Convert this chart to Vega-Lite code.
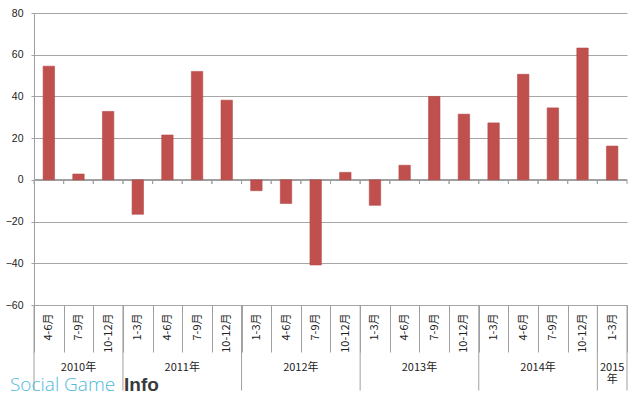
{
  "$schema": "https://vega.github.io/schema/vega-lite/v6.json",
  "width": 593,
  "height": 292,
  "autosize": {"type": "none"},
  "padding": {"left": 34, "top": 13, "right": 13, "bottom": 92},
  "background": "white",
  "config": {
    "view": {"stroke": null},
    "font": "Liberation Sans",
    "axis": {"labelColor": "#222", "labelFont": "Liberation Sans"}
  },
  "datasets": {
    "bars": [
      {"q": "2010|4-6月", "v": 54.5},
      {"q": "2010|7-9月", "v": 2.8},
      {"q": "2010|10-12月", "v": 32.8},
      {"q": "2011|1-3月", "v": -16.5},
      {"q": "2011|4-6月", "v": 21.5},
      {"q": "2011|7-9月", "v": 52},
      {"q": "2011|10-12月", "v": 38.2},
      {"q": "2012|1-3月", "v": -5.2},
      {"q": "2012|4-6月", "v": -11.3},
      {"q": "2012|7-9月", "v": -40.8},
      {"q": "2012|10-12月", "v": 3.6},
      {"q": "2013|1-3月", "v": -12.2},
      {"q": "2013|4-6月", "v": 7},
      {"q": "2013|7-9月", "v": 40},
      {"q": "2013|10-12月", "v": 31.5},
      {"q": "2014|1-3月", "v": 27.3},
      {"q": "2014|4-6月", "v": 50.6},
      {"q": "2014|7-9月", "v": 34.5},
      {"q": "2014|10-12月", "v": 63.2},
      {"q": "2015|1-3月", "v": 16.2}
    ],
    "yearsMid": [
      {"q": "2010|7-9月", "label": "2010年"},
      {"q": "2015|1-3月", "label": "2015\n年"}
    ],
    "yearsEdge": [
      {"q": "2011|7-9月", "label": "2011年"},
      {"q": "2012|7-9月", "label": "2012年"},
      {"q": "2013|7-9月", "label": "2013年"},
      {"q": "2014|7-9月", "label": "2014年"}
    ],
    "yearStarts": [
      {"q": "2010|4-6月"},
      {"q": "2011|1-3月"},
      {"q": "2012|1-3月"},
      {"q": "2013|1-3月"},
      {"q": "2014|1-3月"},
      {"q": "2015|1-3月"}
    ],
    "yearEnd": [{"q": "2015|1-3月"}]
  },
  "layer": [
    {
      "data": {"name": "bars"},
      "mark": {"type": "rule", "color": "#a0a0a0", "strokeWidth": 1},
      "encoding": {"y": {"datum": 0, "type": "quantitative"}}
    },
    {
      "data": {"name": "bars"},
      "mark": {"type": "bar", "width": {"band": 0.385}, "color": "#c0504d", "stroke": "#b4494a", "strokeWidth": 0.6},
      "encoding": {
        "x": {
          "field": "q", "type": "nominal", "sort": null,
          "scale": {"paddingInner": 0, "paddingOuter": 0, "domain": ["2010|4-6月","2010|7-9月","2010|10-12月","2011|1-3月","2011|4-6月","2011|7-9月","2011|10-12月","2012|1-3月","2012|4-6月","2012|7-9月","2012|10-12月","2013|1-3月","2013|4-6月","2013|7-9月","2013|10-12月","2014|1-3月","2014|4-6月","2014|7-9月","2014|10-12月","2015|1-3月"]},
          "axis": {
            "title": null, "orient": "bottom", "domain": false,
            "tickBand": "extent", "tickSize": 47, "tickColor": "#a0a0a0",
            "labelAngle": -90, "labelAlign": "right", "labelBaseline": "middle",
            "labelPadding": -39, "labelFont": "Noto Sans CJK JP", "labelFontSize": 11,
            "labelOverlap": false, "labelBound": false, "labelFlush": false,
            "labelExpr": "split(datum.value, '|')[1]"
          }
        },
        "y": {
          "field": "v", "type": "quantitative",
          "scale": {"domain": [-60, 80], "nice": false, "zero": false},
          "axis": {
            "title": null, "values": [-60, -40, -20, 0, 20, 40, 60, 80],
            "grid": true, "gridColor": "#a6a6a6", "gridWidth": 1,
            "domain": true, "domainColor": "#a0a0a0",
            "tickSize": 3, "tickColor": "#a0a0a0",
            "labelPadding": 8, "labelFontSize": 10.5, "labelFont": "Liberation Sans"
          }
        }
      }
    },
    {
      "data": {"name": "bars"},
      "mark": {"type": "rule", "color": "#a0a0a0", "strokeWidth": 1},
      "encoding": {
        "x": {"field": "q", "type": "nominal", "bandPosition": 0},
        "y": {"datum": 0, "type": "quantitative"},
        "y2": {"datum": -2}
      }
    },
    {
      "data": {"name": "bars"},
      "mark": {"type": "rule", "color": "#a0a0a0", "strokeWidth": 1},
      "encoding": {
        "x": {"field": "q", "type": "nominal", "bandPosition": 1},
        "y": {"datum": 0, "type": "quantitative"},
        "y2": {"datum": -2}
      }
    },
    {
      "data": {"name": "yearStarts"},
      "mark": {"type": "rule", "color": "#a0a0a0", "strokeWidth": 1},
      "encoding": {
        "x": {"field": "q", "type": "nominal", "bandPosition": 0},
        "y": {"datum": -60, "type": "quantitative"},
        "y2": {"datum": -101}
      }
    },
    {
      "data": {"name": "yearEnd"},
      "mark": {"type": "rule", "color": "#a0a0a0", "strokeWidth": 1},
      "encoding": {
        "x": {"field": "q", "type": "nominal", "bandPosition": 1},
        "y": {"datum": -60, "type": "quantitative"},
        "y2": {"datum": -101}
      }
    },
    {
      "data": {"name": "yearsMid"},
      "mark": {"type": "text", "font": "Noto Sans CJK JP", "fontSize": 11, "color": "#222", "baseline": "middle", "align": "center", "dy": 63, "lineBreak": "\n", "lineHeight": 12},
      "encoding": {
        "x": {"field": "q", "type": "nominal", "bandPosition": 0.5},
        "y": {"datum": -60, "type": "quantitative"},
        "text": {"field": "label"}
      }
    },
    {
      "data": {"name": "yearsEdge"},
      "mark": {"type": "text", "font": "Noto Sans CJK JP", "fontSize": 11, "color": "#222", "baseline": "middle", "align": "center", "dy": 63},
      "encoding": {
        "x": {"field": "q", "type": "nominal", "bandPosition": 0},
        "y": {"datum": -60, "type": "quantitative"},
        "text": {"field": "label"}
      }
    },
    {
      "data": {"values": [{"t": "Social Game"}]},
      "mark": {"type": "text", "font": "Open Sans", "fontWeight": 300, "fontSize": 19, "color": "#4dbad8", "baseline": "alphabetic", "align": "left", "dx": -24, "dy": 86},
      "encoding": {
        "x": {"datum": "2010|4-6月", "type": "nominal", "bandPosition": 0},
        "y": {"datum": -60, "type": "quantitative"},
        "text": {"field": "t"}
      }
    },
    {
      "data": {"values": [{"t": "Info"}]},
      "mark": {"type": "text", "font": "Liberation Sans", "fontWeight": "bold", "fontSize": 19, "color": "#3a3a3a", "baseline": "alphabetic", "align": "left", "dx": 90, "dy": 86},
      "encoding": {
        "x": {"datum": "2010|4-6月", "type": "nominal", "bandPosition": 0},
        "y": {"datum": -60, "type": "quantitative"},
        "text": {"field": "t"}
      }
    }
  ]
}
